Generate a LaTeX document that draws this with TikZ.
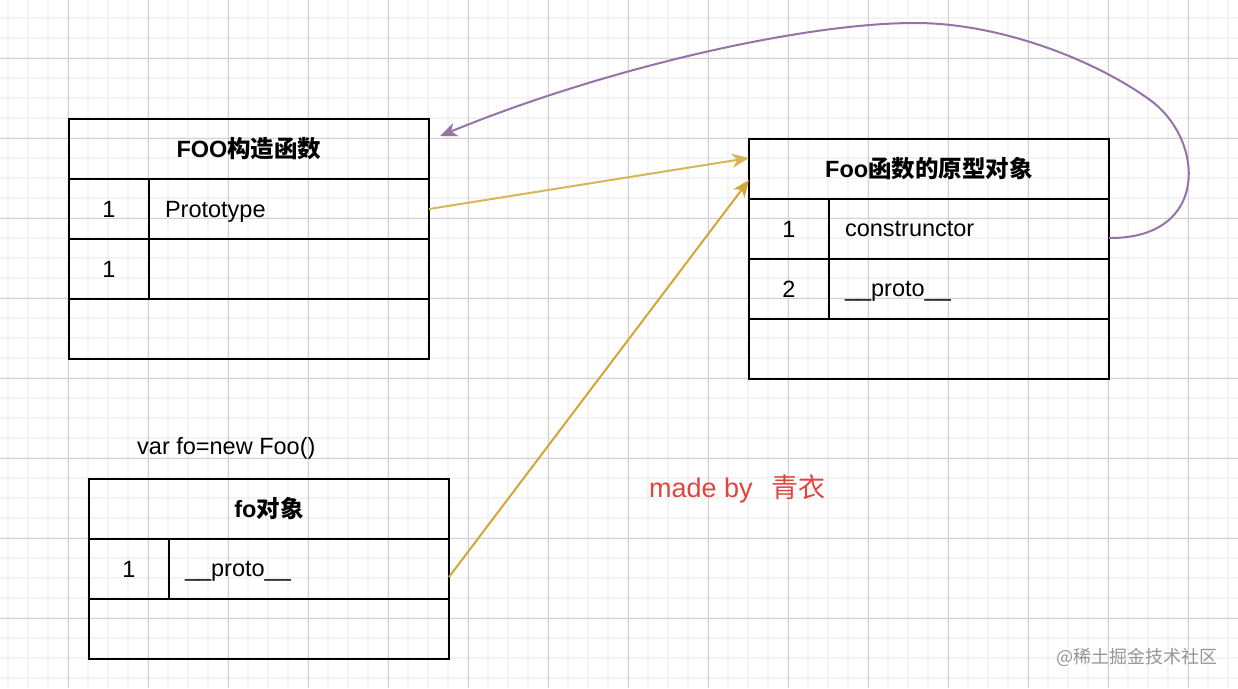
\documentclass[tikz,border=0pt]{standalone}
\usepackage{fontspec}
\setmainfont{Liberation Sans}
\newfontfamily\cjk{Noto Sans CJK SC}
\usetikzlibrary{arrows.meta,calc}
\definecolor{gridminor}{RGB}{243,243,243}
\definecolor{gridmajor}{RGB}{210,210,210}
\definecolor{arrowA}{RGB}{214,182,86}
\definecolor{arrowB}{RGB}{212,165,55}
\definecolor{arrowP}{RGB}{150,115,166}
\definecolor{madered}{RGB}{226,68,60}
\definecolor{wmgray}{RGB}{150,150,150}
\begin{document}
\begin{tikzpicture}[x=1pt,y=-1pt,
  minorline/.style={draw=gridminor, line width=1.5pt},
  majorline/.style={draw=gridmajor, line width=1pt},
  cell/.style={draw=black, line width=2pt, minimum height=60pt, inner sep=0pt, outer sep=0pt, font=\fontsize{23.5}{28}\selectfont},
  titlecell/.style={cell, minimum width=360pt, font=\fontsize{23.5}{28}\selectfont\bfseries},
  numcell/.style={cell, minimum width=80pt, text depth=0pt},
  textcell/.style={cell, text width=248pt, inner xsep=16pt, align=left, text depth=0pt},
  emptycell/.style={cell, minimum width=360pt},
  link/.style={line width=2pt, -{Stealth[length=17pt,width=14pt,inset=5pt]}},
  plain/.style={font=\fontsize{23.5}{28}\selectfont, inner sep=0pt},
]
\useasboundingbox (0,0) rectangle (1238,688);
\fill[white] (0,0) rectangle (1238,688);
% grid
\foreach \x in {8,28,...,1228} \draw[minorline] (\x,0) -- (\x,688);
\foreach \y in {18,38,...,678} \draw[minorline] (0,\y) -- (1238,\y);
\foreach \x in {68,148,...,1188} \draw[majorline] (\x,0) -- (\x,688);
\foreach \y in {58,138,...,618} \draw[majorline] (0,\y) -- (1238,\y);

% FOO constructor box
\node[titlecell, anchor=north west] (foot) at (69,119) {FOO{\cjk 构造函数}};
\node[numcell, anchor=north west] (foon1) at (foot.south west) {1};
\node[textcell, anchor=north west] (foop) at (foon1.north east) {Prototype};
\node[numcell, anchor=north west] (foon2) at (foon1.south west) {1};
\node[textcell, anchor=north west] (foox) at (foon2.north east) {};
\node[emptycell, anchor=north west] (fooe) at (foon2.south west) {};

% Foo prototype object box
\node[titlecell, anchor=north west] (prt) at (749,139) {Foo{\cjk 函数的原型对象}};
\node[numcell, anchor=north west] (prtn1) at (prt.south west) {1};
\node[textcell, anchor=north west] (prtc) at (prtn1.north east) {construnctor};
\node[numcell, anchor=north west] (prtn2) at (prtn1.south west) {2};
\node[textcell, anchor=north west] (prtp) at (prtn2.north east) {\_\_proto\_\_};
\node[emptycell, anchor=north west] (prte) at (prtn2.south west) {};

% fo object box
\node[plain, anchor=west] (vartxt) at (137,448) {var fo=new Foo()};
\node[titlecell, anchor=north west] (fot) at (89,479) {fo{\cjk 对象}};
\node[numcell, anchor=north west] (fon1) at (fot.south west) {1};
\node[textcell, anchor=north west] (fop) at (fon1.north east) {\_\_proto\_\_};
\node[emptycell, anchor=north west] (foe) at (fon1.south west) {};

% labels
\node[text=madered, font=\fontsize{27}{32}\selectfont, inner sep=0pt, anchor=west] (made) at (649,489) {made by\hspace{19pt}{\cjk 青衣}};
\node[text=wmgray, font=\cjk\fontsize{18}{22}\selectfont, inner sep=0pt] (wm) at (1137,657) {@稀土掘金技术社区};

% connectors
\coordinate (aend) at ($(prt.west)+(0,-11)$);
\coordinate (bstart) at ($(fop.east)+(0,8)$);
\coordinate (bend) at ($(prt.west)+(0,11)$);
\coordinate (pstart) at ($(prtc.east)+(0,9)$);
\coordinate (pend) at ($(foot.north east)+(11,17)$);
\draw[link, arrowA] (foop.east) -- (aend);
\draw[link, arrowB] (bstart) -- (bend);
\draw[link, arrowP] (pstart) .. controls (1210,239) and (1205,140) .. (1150,100)
  .. controls (1095,60) and (1000,23) .. (915,23)
  .. controls (800,23) and (600,70) .. (pend);
\end{tikzpicture}
\end{document}
